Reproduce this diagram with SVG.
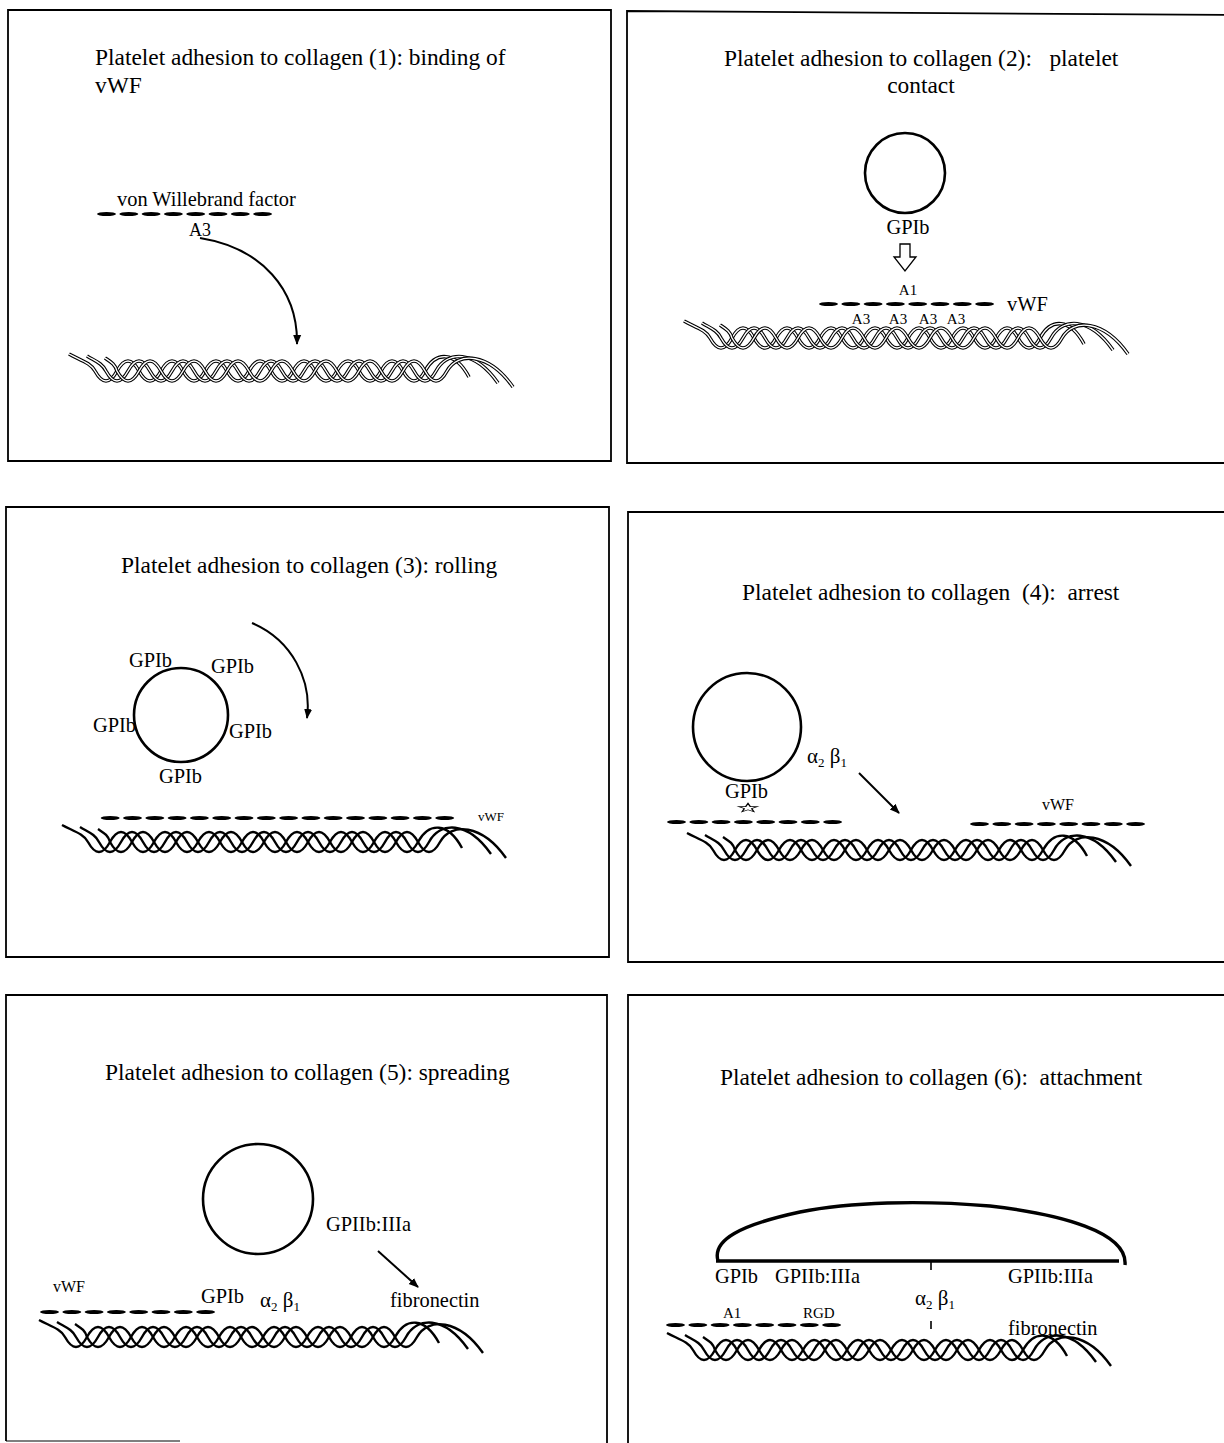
<svg xmlns="http://www.w3.org/2000/svg" xmlns:xlink="http://www.w3.org/1999/xlink" width="1224" height="1443" viewBox="0 0 1224 1443">
  <style>
    text { font-family: "Liberation Serif", "Times New Roman", serif; fill: #000; white-space: pre; }
    .title { font-size: 23.4px; }
    .lbl { font-size: 20.4px; }
    .sm { font-size: 15px; }
    .frame { fill: none; stroke: #000; stroke-width: 1.8; }
    .cell { fill: none; stroke: #000; stroke-width: 2.6; }
    .h-out { fill: none; stroke: #000; stroke-width: 3.6; }
    .h-in { fill: none; stroke: #fff; stroke-width: 1.4; }
    .h-solid { fill: none; stroke: #000; stroke-width: 2.4; }
    .arrow { fill: none; stroke: #000; stroke-width: 2; marker-end: url(#ah); }
    .dash { fill: #000; }
  </style>
  <defs>
    <marker id="ah" viewBox="0 0 10 10" refX="9" refY="5" markerWidth="5" markerHeight="5" markerUnits="strokeWidth" orient="auto">
      <path d="M0,1 L10,5 L0,9 Z" fill="#000"/>
    </marker>
    <!-- collagen strands: lead-in, sinusoidal body, drooping tail -->
    <path id="strand-a" d="M4,-17 C15,-11 26,-8 30,0 q11,20 22,0 t22,0 t22,0 t22,0 t22,0 t22,0 t22,0 t22,0 t22,0 t22,0 t22,0 t22,0 t22,0 t22,0 t22,0 c11,-20 30,-20 44,6"/>
    <path id="strand-b" d="M22,-15 C30,-10 37,-8 41,0 q11,20 22,0 t22,0 t22,0 t22,0 t22,0 t22,0 t22,0 t22,0 t22,0 t22,0 t22,0 t22,0 t22,0 t22,0 t22,0 c11,-20 38,-22 62,12"/>
    <path id="strand-c" d="M40,-13 C46,-9 50,-7 52,0 q11,20 22,0 t22,0 t22,0 t22,0 t22,0 t22,0 t22,0 t22,0 t22,0 t22,0 t22,0 t22,0 t22,0 t22,0 t22,0 c11,-20 42,-18 66,16"/>
    <!-- triple helix, outlined ribbons -->
    <g id="helix-h">
      <use href="#strand-a" class="h-out"/><use href="#strand-a" class="h-in"/>
      <use href="#strand-b" class="h-out"/><use href="#strand-b" class="h-in"/>
      <use href="#strand-c" class="h-out"/><use href="#strand-c" class="h-in"/>
    </g>
    <!-- triple helix, solid strands -->
    <g id="helix-s" class="h-solid"><use href="#strand-a"/><use href="#strand-b"/><use href="#strand-c"/></g>
    <!-- von Willebrand factor multimer: eight domains -->
    <g id="vwf8" class="dash">
      <ellipse cx="9.5" cy="0" rx="9.5" ry="2.1"/>
      <ellipse cx="31.8" cy="0" rx="9.5" ry="2.1"/>
      <ellipse cx="54.1" cy="0" rx="9.5" ry="2.1"/>
      <ellipse cx="76.4" cy="0" rx="9.5" ry="2.1"/>
      <ellipse cx="98.7" cy="0" rx="9.5" ry="2.1"/>
      <ellipse cx="121" cy="0" rx="9.5" ry="2.1"/>
      <ellipse cx="143.3" cy="0" rx="9.5" ry="2.1"/>
      <ellipse cx="165.6" cy="0" rx="9.5" ry="2.1"/>
    </g>
  </defs>

  <rect width="1224" height="1443" fill="#fff"/>

  <!-- panel frames -->
  <g id="frames">
    <path class="frame" d="M8,10 H611 V461 H8 Z"/>
    <path class="frame" d="M1230,15 L627,11 V463 H1230"/>
    <path class="frame" d="M6,507 H609 V957 H6 Z"/>
    <path class="frame" d="M1230,512 H628 V962 H1230"/>
    <path class="frame" d="M6,1441 V995 H607 V1443"/>
    <path class="frame" d="M6,1441 H180" stroke-opacity="0.5"/>
    <path class="frame" d="M1230,995 H628 V1443"/>
  </g>

  <!-- (1) binding of vWF -->
  <g id="panel1">
    <text class="title" x="95" y="65">Platelet adhesion to collagen (1): binding of</text>
    <text class="title" x="95" y="93">vWF</text>
    <g id="p1-vwf">
      <text class="lbl" x="117" y="206">von Willebrand factor</text>
      <use href="#vwf8" x="97" y="214"/>
      <text class="lbl" x="189" y="236" style="font-size:18px">A3</text>
    </g>
    <use id="p1-collagen" href="#helix-h" x="65" y="371"/>
  </g>

  <!-- (2) platelet contact -->
  <g id="panel2">
    <text class="title" x="724" y="66">Platelet adhesion to collagen (2):   platelet</text>
    <text class="title" x="921" y="93" text-anchor="middle">contact</text>
    <g id="p2-platelet">
      <circle class="cell" cx="905" cy="173" r="40"/>
      <text class="lbl" x="908" y="234" text-anchor="middle">GPIb</text>
    </g>
    <g id="p2-vwf">
      <text class="sm" x="908" y="295" text-anchor="middle">A1</text>
      <use href="#vwf8" x="819" y="304"/>
      <text class="lbl" x="1007" y="311">vWF</text>
      <text class="sm" x="861" y="324" text-anchor="middle">A3</text>
      <text class="sm" x="898" y="324" text-anchor="middle">A3</text>
      <text class="sm" x="928" y="324" text-anchor="middle">A3</text>
      <text class="sm" x="956" y="324" text-anchor="middle">A3</text>
    </g>
    <use id="p2-collagen" href="#helix-h" x="680" y="338"/>
  </g>

  <!-- (3) rolling -->
  <g id="panel3">
    <text class="title" x="121" y="573">Platelet adhesion to collagen (3): rolling</text>
    <g id="p3-platelet">
      <circle class="cell" cx="181" cy="715" r="47"/>
      <text class="lbl" x="129" y="667">GPIb</text>
      <text class="lbl" x="211" y="673">GPIb</text>
      <text class="lbl" x="93" y="732">GPIb</text>
      <text class="lbl" x="229" y="738">GPIb</text>
      <text class="lbl" x="159" y="783">GPIb</text>
    </g>
    <g id="p3-vwf">
      <use href="#vwf8" x="100.7" y="818"/>
      <use href="#vwf8" x="279.1" y="818"/>
      <text x="478" y="821" style="font-size:13px">vWF</text>
    </g>
    <use id="p3-collagen" href="#helix-s" x="58" y="842"/>
  </g>

  <!-- (4) arrest -->
  <g id="panel4">
    <text class="title" x="742" y="600">Platelet adhesion to collagen  (4):  arrest</text>
    <g id="p4-platelet">
      <circle class="cell" cx="747" cy="727" r="54"/>
      <text class="lbl" x="725" y="798">GPIb</text>
      <polygon points="0,-7 1.65,-2.27 6.66,-2.16 2.66,0.87 4.11,5.66 0,2.8 -4.11,5.66 -2.66,0.87 -6.66,-2.16 -1.65,-2.27" transform="translate(748,808) scale(1.4,0.65)" fill="none" stroke="#000" stroke-width="1.1"/>
    </g>
    <text id="p4-integrin" x="807" y="763" style="font-size:21px">α<tspan dy="4" style="font-size:13px">2</tspan><tspan dy="-4"> β</tspan><tspan dy="4" style="font-size:13px">1</tspan></text>
    <g id="p4-vwf">
      <use href="#vwf8" x="667" y="822"/>
      <use href="#vwf8" x="970" y="824"/>
      <text x="1042" y="810" style="font-size:16px">vWF</text>
    </g>
    <use id="p4-collagen" href="#helix-s" x="683" y="850"/>
  </g>

  <!-- (5) spreading -->
  <g id="panel5">
    <text class="title" x="105" y="1080">Platelet adhesion to collagen (5): spreading</text>
    <g id="p5-platelet">
      <circle class="cell" cx="258" cy="1199" r="55"/>
      <text class="lbl" x="326" y="1231">GPIIb:IIIa</text>
      <text class="lbl" x="201" y="1303">GPIb</text>
      <text x="260" y="1307" style="font-size:21px">α<tspan dy="4" style="font-size:13px">2</tspan><tspan dy="-4"> β</tspan><tspan dy="4" style="font-size:13px">1</tspan></text>
    </g>
    <g id="p5-vwf">
      <text x="53" y="1292" style="font-size:16px">vWF</text>
      <use href="#vwf8" x="40" y="1312"/>
    </g>
    <text id="p5-fibronectin" class="lbl" x="390" y="1307">fibronectin</text>
    <use id="p5-collagen" href="#helix-s" x="35" y="1337"/>
  </g>

  <!-- (6) attachment -->
  <g id="panel6">
    <text class="title" x="720" y="1085">Platelet adhesion to collagen (6):  attachment</text>
    <g id="p6-platelet">
      <path d="M718,1261 C712,1240 740,1225 800,1212 C850,1202 920,1200 990,1206 C1060,1214 1128,1232 1125,1265" fill="none" stroke="#000" stroke-width="3.4"/>
      <path d="M716,1261 H1119" stroke="#000" stroke-width="3.4"/>
      <text class="lbl" x="715" y="1283">GPIb</text>
      <text class="lbl" x="775" y="1283">GPIIb:IIIa</text>
      <text class="lbl" x="1008" y="1283">GPIIb:IIIa</text>
      <path d="M931,1262 V1270 M931,1321 V1329" stroke="#000" stroke-width="1.6"/>
      <text x="915" y="1305" style="font-size:21px">α<tspan dy="4" style="font-size:13px">2</tspan><tspan dy="-4"> β</tspan><tspan dy="4" style="font-size:13px">1</tspan></text>
    </g>
    <g id="p6-vwf">
      <text class="sm" x="723" y="1318">A1</text>
      <text class="sm" x="803" y="1318">RGD</text>
      <use href="#vwf8" x="666" y="1325"/>
    </g>
    <text id="p6-fibronectin" class="lbl" x="1008" y="1335">fibronectin</text>
    <use id="p6-collagen" href="#helix-s" x="663" y="1350"/>
  </g>

  <!-- connectors -->
  <g id="connectors">
    <path class="arrow" d="M200,238 C262,248 298,290 297,344"/>
    <polygon points="900,244 910,244 910,257 916,257 905,271 894,257 900,257" fill="#fff" stroke="#000" stroke-width="1.3"/>
    <path class="arrow" d="M252,623 C292,640 312,680 307,718"/>
    <path class="arrow" d="M859,773 L899,813"/>
    <path class="arrow" d="M378,1251 L418,1287"/>
  </g>
</svg>
